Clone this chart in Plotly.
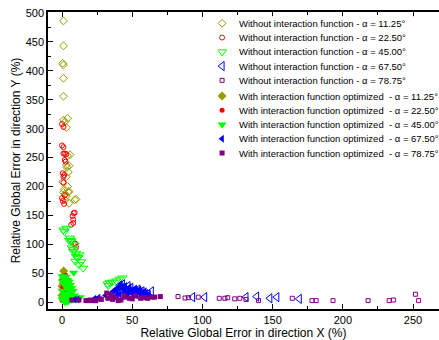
import plotly.graph_objects as go

# ---------------- data ----------------
wo_1125_x = [1, 1, 0.5, 1, 1, 1, 4, 1, 2, 3, 4, 5, 3.5, 3, 0.5, 1.5, 4.8, 3, 2, 5, 10, 1, 4, 2, 5.7, 3, 4.5, 4.5, 9]
wo_1125_y = [486, 443, 413, 410, 387, 356, 318, 315, 312, 302, 253, 236, 233, 217, 208, 195, 192, 183, 177, 171, 178, 190, 200, 187, 255, 237, 225, 190, 177]

wo_2250_x = [0, 1, 0, 1, 2, 3, 2.5, 1.5, 1, 0, 0.5, 1.5, 2, 8.3, 7.5, 6.5, 8, 9, 10, 9.5, 1, 2, 0.5, 1, 9, 8]
wo_2250_y = [308, 303, 271, 268, 257, 256, 243, 220, 207, 180, 175, 170, 185, 154, 149, 134, 137, 102, 95, 101, 257, 246, 223, 217, 155, 143]

wo_4500_x = [1.7, 3, 5.7, 6.4, 7, 8, 9, 10, 11, 12.5, 13.6, 15, 32.6, 34, 35.7, 38.6, 41, 43, 33, 1, 5, 6.5, 8, 10, 11.5, 12, 9.5]
wo_4500_y = [122, 128, 111, 107, 94, 91, 99, 85, 78, 82, 70, 59, 32, 34, 35, 37, 40, 42, 29, 125, 107, 105, 88, 79, 77, 65, 71]

wo_6750_x = [41, 43, 47, 49, 54, 57, 63.6, 61, 40, 38.6, 93, 101.6, 131, 138.6, 148, 153, 169, 52, 45]
wo_6750_y = [29, 31, 28, 25, 22, 19, 19, 14, 22, 14, 9, 9, 9, 10, 7, 9, 6, 17, 20]

wo_7875_x = [82.6, 90, 97, 112, 116, 118, 123, 126.6, 131, 140, 164, 178, 181, 193, 218, 233, 236, 251.7, 254, 87.6]
wo_7875_y = [10, 8, 9, 7, 7, 8, 6, 7, 5, 3, 7, 3, 3, 3, 3, 3, 4, 14, 3, 7.5]

w_1125_x = [1.2, 0.5, 1, 0, 1.5, 0, 2]
w_1125_y = [54, 39, 33, 28, 20, 12, 5]

w_2250_x = [0, 1, 2, 3, 4, 5, 0.5, 1.5, 3, 6, 7, 2, 4, 0, 1, 3, 5, 8, 2.5, 6.5]
w_2250_y = [45, 40, 42, 35, 30, 38, 25, 20, 15, 22, 8, 10, 5, 3, 30, 28, 12, 10, 47, 18]

w_4500_x = [8.3, 0, 1, 2, 3, 4, 5, 6, 7, 8, 9, 0.5, 1.5, 2.5, 3.5, 4.5, 5.5, 6.5, 0, 2, 4, 6, 8, 10, 12, 0, 1, 3, 5, 7, 9, 11, 13, 1, 3, 5, 2, 4]
w_4500_y = [51, 45, 42, 40, 44, 38, 35, 30, 25, 20, 12, 35, 32, 28, 25, 22, 18, 15, 20, 15, 12, 8, 6, 8, 7, 5, 3, 2, 3, 4, 5, 6, 9, 10, 8, 10, 0, 1]

w_6750_x = [9, 11, 23, 24, 26, 31, 35, 36, 37, 38, 38.6, 40, 41, 42, 43, 44, 45, 46, 47, 48, 49, 50, 51, 52, 53, 54, 55, 56, 57, 58, 59, 60, 62, 39, 41, 44, 47, 50, 53, 56, 45, 48, 52, 55]
w_6750_y = [5, 5, 6, 5, 8, 12, 15, 18, 20, 22, 22, 25, 28, 30, 27, 24, 20, 18, 22, 25, 21, 19, 17, 22, 20, 18, 16, 20, 17, 15, 19, 16, 14, 12, 14, 16, 13, 15, 12, 14, 28, 26, 24, 22]

w_7875_x = [7, 12, 17, 19, 22.5, 24, 28, 31.8, 32.6, 36, 40, 45, 48, 52, 56, 61, 66, 70, 35, 42, 38, 44, 50, 58, 64, 27, 20]
w_7875_y = [4, 4, 3, 3, 3, 3, 5, 16, 7, 5, 3, 9, 7, 11, 7, 7, 9, 10, 13, 4, 8, 12, 6, 8, 9, 6, 4]

labels = [
    "Without interaction function - α = 11.25°",
    "Without interaction function - α = 22.50°",
    "Without interaction function - α = 45.00°",
    "Without interaction function - α = 67.50°",
    "Without interaction function - α = 78.75°",
    "With interaction function optimized  - α = 11.25°",
    "With interaction function optimized  - α = 22.50°",
    "With interaction function optimized  - α = 45.00°",
    "With interaction function optimized  - α = 67.50°",
    "With interaction function optimized  - α = 78.75°",
]
legend_rows = [0, 1, 2, 3, 4, 5.1, 6.1, 7.1, 8.1, 9.1]

x_ticks = [0, 50, 100, 150, 200, 250]
y_ticks = [0, 50, 100, 150, 200, 250, 300, 350, 400, 450, 500]

# ---------------- styles ----------------
OLIVE = "#999900"
RED = "#ff0000"
GREEN = "#00ff00"
BLUE = "#0000ff"
PURPLE = "#800080"

styles = [
    dict(symbol="diamond-open", size=6, color=OLIVE, line=dict(width=1, color=OLIVE)),
    dict(symbol="circle-open", size=5, color=RED, line=dict(width=1, color=RED)),
    dict(symbol="triangle-down-open", size=8, color=GREEN, line=dict(width=1, color=GREEN)),
    dict(symbol="triangle-left-open", size=8, color=BLUE, line=dict(width=1, color=BLUE)),
    dict(symbol="square-open", size=4, color=PURPLE, line=dict(width=1, color=PURPLE)),
    dict(symbol="diamond", size=7, color=OLIVE, line=dict(width=0)),
    dict(symbol="circle", size=5, color=RED, line=dict(width=0)),
    dict(symbol="triangle-down", size=8, color=GREEN, line=dict(width=0)),
    dict(symbol="triangle-left", size=7, color=BLUE, line=dict(width=0)),
    dict(symbol="square", size=5, color=PURPLE, line=dict(width=0)),
]

series = [
    (wo_1125_x, wo_1125_y), (wo_2250_x, wo_2250_y), (wo_4500_x, wo_4500_y),
    (wo_6750_x, wo_6750_y), (wo_7875_x, wo_7875_y),
    (w_1125_x, w_1125_y), (w_2250_x, w_2250_y), (w_4500_x, w_4500_y),
    (w_6750_x, w_6750_y), (w_7875_x, w_7875_y),
]

FONT = "Arial, Liberation Sans, sans-serif"

fig = go.Figure()
for (xs, ys), st, lab in zip(series, styles, labels):
    fig.add_trace(go.Scatter(x=xs, y=ys, mode="markers", marker=st, name=lab,
                             showlegend=False, xaxis="x", yaxis="y"))

# legend drawn on a hidden helper axis pair
for row, st, lab in zip(legend_rows, styles, labels):
    fig.add_trace(go.Scatter(x=[0], y=[row], mode="markers", marker=st,
                             showlegend=False, xaxis="x2", yaxis="y2", hoverinfo="skip"))
    fig.add_annotation(x=1, y=row, xref="x2", yref="y2", text=lab, showarrow=False,
                       xanchor="left", yanchor="middle",
                       font=dict(family=FONT, size=9.5, color="black"))

minor_common = dict(ticks="inside", ticklen=3, tickwidth=1, tickcolor="black",
                    dtick=25, tick0=0, showgrid=False)
axis_common = dict(
    showline=True, linecolor="black", linewidth=1.5,
    ticks="inside", ticklen=5, tickwidth=1, tickcolor="black",
    showgrid=False, zeroline=False,
    tickfont=dict(family=FONT, size=11, color="black"),
    minor=minor_common,
)

fig.update_layout(
    width=439, height=340,
    margin=dict(l=48, r=0, t=12, b=31),
    paper_bgcolor="white", plot_bgcolor="white",
    font=dict(family=FONT, color="black"),
    xaxis=dict(range=[-10, 268.5], tickvals=x_ticks, mirror="ticks",
               title=dict(text="Relative Global Error in direction X (%)",
                          font=dict(family=FONT, size=12), standoff=0),
               **axis_common),
    yaxis=dict(range=[-11.5, 501.5], tickvals=y_ticks,
               title=dict(text="Relative Global Error in direction Y (%)",
                          font=dict(family=FONT, size=12), standoff=2),
               **axis_common),
    xaxis2=dict(domain=[0.435, 1.0], range=[-0.267, 14.47], visible=False,
                anchor="y2", fixedrange=True),
    yaxis2=dict(domain=[0.501, 0.986], range=[9.6, -0.5], visible=False,
                anchor="x2", fixedrange=True),
    showlegend=False,
)

fig.write_html("out.html")
